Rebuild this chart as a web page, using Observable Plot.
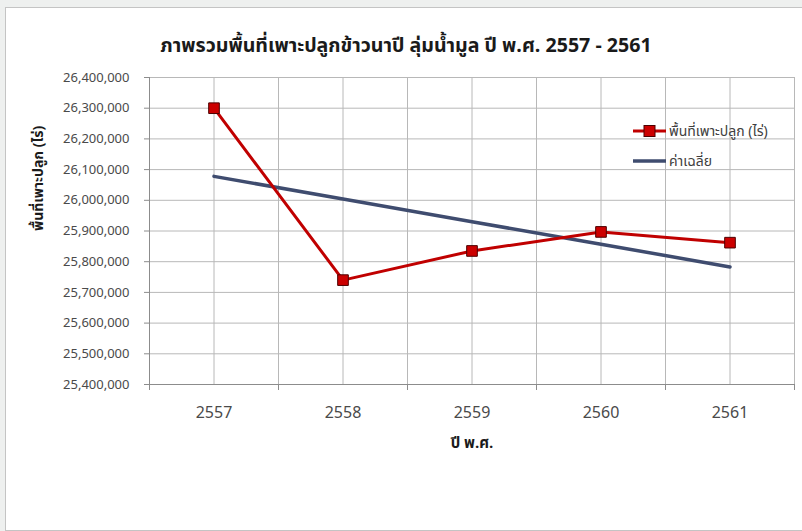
<!DOCTYPE html>
<html><head><meta charset="utf-8">
<script src="https://cdn.jsdelivr.net/npm/d3@7"></script>
<script src="https://cdn.jsdelivr.net/npm/@observablehq/plot@0.6"></script>
<style>
html,body{margin:0;padding:0;background:#eef0ef;}
#wrap{position:relative;width:802px;height:531px;overflow:hidden;}
#box{position:absolute;left:5px;top:7px;width:800px;height:522px;background:#fff;border:1px solid #c4c4c4;}
#chart{position:absolute;left:0;top:0;}
.legend{position:absolute;left:633px;top:116px;font-family:"Noto Sans Thai","Leelawadee UI",Tahoma,"DejaVu Sans Condensed","DejaVu Sans",sans-serif;font-size:14px;color:#404040;}
.legend .row{display:flex;align-items:center;height:30px;}
.legend svg{margin-right:3px;}
</style>
</head><body>
<div id="wrap"><div id="box"></div><div id="chart"></div>
<div class="legend">
 <div class="row"><svg width="33" height="14"><line x1="0" y1="7" x2="33" y2="7" stroke="#c00000" stroke-width="3"/><rect x="11" y="1.5" width="11" height="11" fill="#cc0000" stroke="#4d0000"/></svg><span id="lg1"></span></div>
 <div class="row"><svg width="33" height="14"><line x1="0" y1="7" x2="33" y2="7" stroke="#3f4c6f" stroke-width="3.5"/></svg><span id="lg2"></span></div>
</div>
</div>
<script>
const titleText = "ภาพรวมพื้นที่เพาะปลูกข้าวนาปี ลุ่มน้ำมูล ปี พ.ศ. 2557 - 2561";
const xLabel = "ปี พ.ศ.";
const yLabel = "พื้นที่เพาะปลูก (ไร่)";
const seriesNames = ["พื้นที่เพาะปลูก (ไร่)", "ค่าเฉลี่ย"];
const years = [2557, 2558, 2559, 2560, 2561];
const area = [26300000, 25740000, 25835000, 25897000, 25862000];
const average = [26078000, 26004000, 25930000, 25857000, 25783000];
const yTicks = [25400000, 25500000, 25600000, 25700000, 25800000, 25900000, 26000000, 26100000, 26200000, 26300000, 26400000];
const xEdges = [2556.5, 2557.5, 2558.5, 2559.5, 2560.5, 2561.5];

document.getElementById("lg1").textContent = seriesNames[0];
document.getElementById("lg2").textContent = seriesNames[1];

const areaData = years.map((y, i) => ({year: y, value: area[i]}));
const avgData = years.map((y, i) => ({year: y, value: average[i]}));

const font = '"Noto Sans Thai","Leelawadee UI",Tahoma,"DejaVu Sans Condensed","DejaVu Sans",sans-serif';
const grid = "#b8b8b8", axisC = "#8c8c8c", textC = "#4a4a4a";

const chart = Plot.plot({
  width: 802, height: 531,
  marginLeft: 149, marginRight: 8, marginTop: 77, marginBottom: 147,
  style: {background: "transparent", fontFamily: font},
  x: {type: "linear", domain: [2556.5, 2561.5]},
  y: {domain: [25400000, 26400000]},
  marks: [
    Plot.gridX([...years, ...xEdges], {stroke: grid, strokeOpacity: 1}),
    Plot.gridY(yTicks, {stroke: grid, strokeOpacity: 1}),
    Plot.axisY(yTicks, {tickSize: 5, tickPadding: 15, tickFormat: d3.format(","), label: null, fontSize: 13, stroke: axisC, fill: textC}),
    Plot.axisX(years, {tickSize: 0, tickPadding: 22, tickFormat: d => String(d), label: null, fontSize: 16, fill: textC}),
    Plot.axisX(xEdges, {tickSize: 6, tickFormat: () => "", label: null, stroke: axisC}),
    Plot.ruleX([2556.5], {stroke: axisC}),
    Plot.ruleY([25400000], {stroke: axisC}),
    Plot.line(avgData, {x: "year", y: "value", stroke: "#3f4c6f", strokeWidth: 3.5}),
    Plot.line(areaData, {x: "year", y: "value", stroke: "#c00000", strokeWidth: 3}),
    Plot.dot(areaData, {x: "year", y: "value", symbol: "square", r: 6, fill: "#cc0000", stroke: "#4d0000", strokeWidth: 1}),
    Plot.text([xLabel], {frameAnchor: "bottom", dy: 63, fontSize: 15, fontWeight: "bold", fill: "#1a1a1a"}),
    Plot.text([yLabel], {frameAnchor: "left", dx: -111, rotate: -90, fontSize: 14, fontWeight: "bold", fill: "#1a1a1a"}),
    Plot.text([titleText], {frameAnchor: "top", dy: -39, dx: -66, fontSize: 19.6, fontWeight: "bold", fill: "#1a1a1a"})
  ]
});
document.getElementById("chart").appendChild(chart);
</script>
</body></html>
